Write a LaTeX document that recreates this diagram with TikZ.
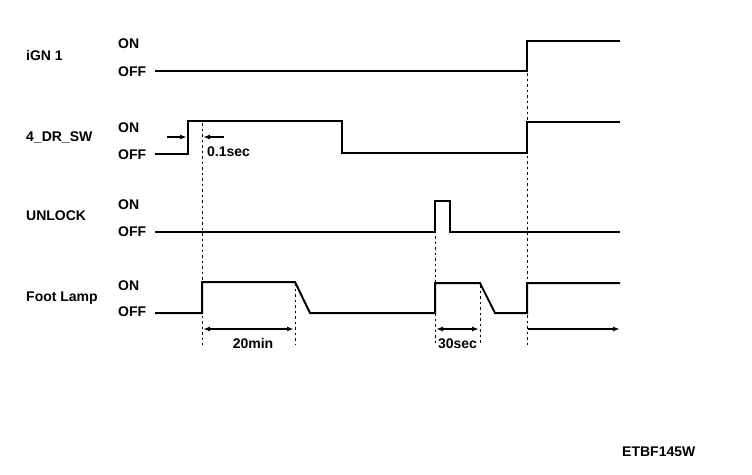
\documentclass[tikz,border=0pt]{standalone}
\usepackage{fontspec}
\setmainfont{Liberation Sans}
\usetikzlibrary{arrows.meta}
\tikzset{
	sig/.style={line width=2pt},
	guide/.style={line width=0.8pt, dash pattern=on 2.5pt off 3pt},
	dimarr/.style={line width=2pt, -{Latex[length=7pt,width=5pt]}},
	lbl/.style={anchor=base west, inner sep=0pt, font=\fontsize{14}{16}\selectfont\bfseries},
}
\begin{document}
\begin{tikzpicture}[x=1pt,y=-1pt]
			\useasboundingbox (0,0) rectangle (752,474);
			%%%%% LABELS %%%%%
			\node[lbl] (ign) at (26, 60.7) {iGN 1};
			\node[lbl] (ignon) at (118, 48.3) {ON};
			\node[lbl] (ignoff) at (118, 76.5) {OFF};
			
			\node[lbl] (drsw) at (26, 141.7) {4\_DR\_SW};
			\node[lbl] (drswon) at (118, 132.7) {ON};
			\node[lbl] (drswoff) at (118, 159) {OFF};
			
			\node[lbl] (unlock) at (26, 220) {UNLOCK};
			\node[lbl] (unlockon) at (118, 209) {ON};
			\node[lbl] (unlockoff) at (118, 236) {OFF};
			
			\node[lbl] (lamp) at (26, 301.7) {Foot Lamp};
			\node[lbl] (lampon) at (118, 290) {ON};
			\node[lbl] (lampoff) at (118, 316.7) {OFF};
			
			%%%%% SIGNALS %%%%%
			\draw[sig] (155, 71) -- (527, 71) -- (527, 41) -- (620, 41);
			\draw[sig] (155, 154) -- (188, 154) -- (188, 121) -- (342, 121) -- (342, 153) -- (527, 153) -- (527, 122) -- (620, 122);
			\draw[sig] (155, 232) -- (435, 232) -- (435, 201) -- (450, 201) -- (450, 232) -- (620, 232);
			\draw[sig] (155, 313) -- (202, 313) -- (202, 282) -- (295, 282) -- (310, 313) -- (435, 313) -- (435, 283) -- (480, 283) -- (495, 313) -- (527, 313) -- (527, 283) -- (620, 283);
			
			%%%%% GUIDES %%%%%
			\draw[guide] (202, 123) -- (202, 345);
			\draw[guide] (295, 283) -- (295, 345);
			\draw[guide] (435, 203) -- (435, 345);
			\draw[guide] (480, 285) -- (480, 345);
			\draw[guide] (527, 73) -- (527, 345);
			
			%%%%% TIMES %%%%%
			\draw[dimarr] (167, 137) -- (187, 137);
			\draw[dimarr] (224, 137) -- (203, 137);
			\node[lbl] (tdelay) at (207, 156.7) {0.1sec};
			
			\draw[dimarr, {Latex[length=7pt,width=5pt]}-{Latex[length=7pt,width=5pt]}] (203, 329) -- (294, 329);
			\node[lbl, anchor=base] (tmin) at (253, 348) {20min};
			
			\draw[dimarr, {Latex[length=7pt,width=5pt]}-{Latex[length=7pt,width=5pt]}] (436, 329) -- (479, 329);
			\node[lbl, anchor=base] (tsec) at (457.5, 348) {30sec};
			
			\draw[dimarr] (528, 329) -- (620, 329);
			
			\node[lbl] (code) at (622, 456.7) {ETBF145W};
\end{tikzpicture}
\end{document}
